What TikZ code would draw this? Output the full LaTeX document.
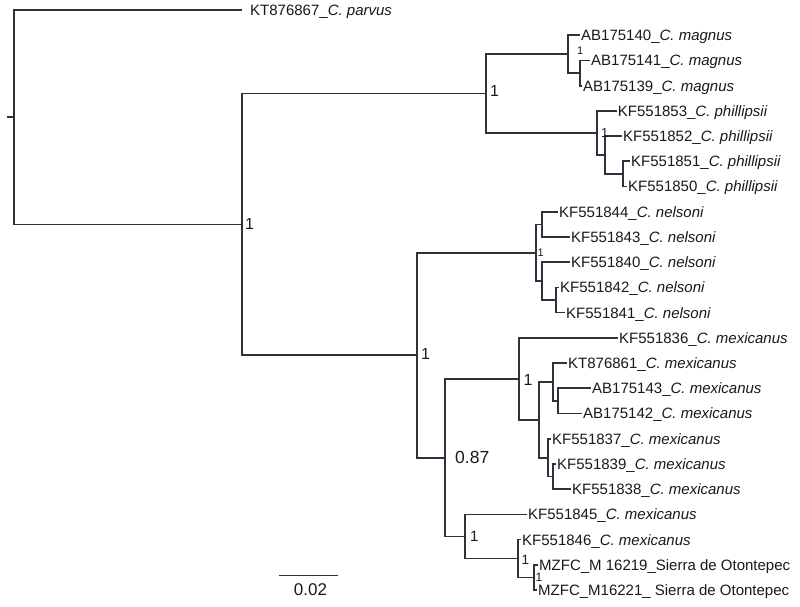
\documentclass[tikz,border=0pt]{standalone}
\usepackage{fontspec}
\setmainfont{Liberation Sans}
\newcommand\fsz[1]{\fontsize{#1}{#1}\selectfont}
\definecolor{lc}{RGB}{50,48,60}
\definecolor{tc}{RGB}{25,25,30}
\tikzset{
  br/.style={draw=lc, line width=1.7pt},
  leaf/.style={anchor=base west, inner xsep=1pt, inner ysep=0pt, yshift=-5.4pt, font=\fsz{15}, text=tc},
  boot/.style={anchor=base west, inner sep=0pt, text=tc},
}
\begin{document}
\begin{tikzpicture}[x=1pt,y=-1pt]
\fill[white] (0,0) rectangle (800,606);
\useasboundingbox (0,0) rectangle (800,606);
% internal nodes
\coordinate (R0) at (7,117.2);
\coordinate (R) at (14,117.2);
\coordinate (W) at (242,224.35);
\coordinate (X) at (485.7,93.5);
\coordinate (M1) at (568.3,54.1);
\coordinate (M2) at (580,73.05);
\coordinate (P1) at (596.7,132.95);
\coordinate (P2) at (605,155);
\coordinate (P3) at (623.3,173.9);
\coordinate (Y) at (417,355.2);
\coordinate (N1) at (535.7,252.75);
\coordinate (NA) at (541.7,224.4);
\coordinate (NB) at (541.7,281.1);
\coordinate (NC) at (556,300);
\coordinate (Z) at (445,457.65);
\coordinate (MA) at (519,378.85);
\coordinate (MA2) at (539,419.8);
\coordinate (Q1) at (553,382);
\coordinate (Q1b) at (558,400.9);
\coordinate (Q2) at (548,457.65);
\coordinate (Q2b) at (553,476.6);
\coordinate (MB) at (465,536.45);
\coordinate (MB2) at (518,558.5);
\coordinate (MB3) at (534,577.4);
% tips
\coordinate (t1) at (242,10);
\coordinate (t2) at (580,35.2);
\coordinate (t3) at (590,60.4);
\coordinate (t4) at (582,85.7);
\coordinate (t5) at (616.7,110.9);
\coordinate (t6) at (622,136.1);
\coordinate (t7) at (630,161.3);
\coordinate (t8) at (627,186.5);
\coordinate (t9) at (558,211.8);
\coordinate (t10) at (570,237);
\coordinate (t11) at (570,262.2);
\coordinate (t12) at (559,287.4);
\coordinate (t13) at (565,312.6);
\coordinate (t14) at (618,337.9);
\coordinate (t15) at (567,363.1);
\coordinate (t16) at (591,388.3);
\coordinate (t17) at (582,413.5);
\coordinate (t18) at (551,438.7);
\coordinate (t19) at (556,464);
\coordinate (t20) at (571,489.2);
\coordinate (t21) at (527,514.4);
\coordinate (t22) at (521,539.6);
\coordinate (t23) at (538,564.8);
\coordinate (t24) at (537,590);
% branches
\draw[br] (R0) -- (R);
\foreach \a/\b in {R/t1,R/W,W/X,W/Y,X/M1,X/P1,M1/t2,M1/M2,M2/t3,M2/t4,
  P1/t5,P1/P2,P2/t6,P2/P3,P3/t7,P3/t8,Y/N1,Y/Z,N1/NA,N1/NB,NA/t9,NA/t10,
  NB/t11,NB/NC,NC/t12,NC/t13,Z/MA,Z/MB,MA/t14,MA/MA2,MA2/Q1,MA2/Q2,
  Q1/t15,Q1/Q1b,Q1b/t16,Q1b/t17,Q2/t18,Q2/Q2b,Q2b/t19,Q2b/t20,
  MB/t21,MB/MB2,MB2/t22,MB2/MB3,MB3/t23,MB3/t24}
  \draw[br] (\a) |- (\b);
% leaf labels
\node[leaf, xshift=7pt] (l1) at (t1) {KT876867\_\textit{C. parvus}};
\node[leaf] (l2) at (t2) {AB175140\_\textit{C. magnus}};
\node[leaf] (l3) at (t3) {AB175141\_\textit{C. magnus}};
\node[leaf] (l4) at (t4) {AB175139\_\textit{C. magnus}};
\node[leaf] (l5) at (t5) {KF551853\_\textit{C. phillipsii}};
\node[leaf] (l6) at (t6) {KF551852\_\textit{C. phillipsii}};
\node[leaf] (l7) at (t7) {KF551851\_\textit{C. phillipsii}};
\node[leaf] (l8) at (t8) {KF551850\_\textit{C. phillipsii}};
\node[leaf] (l9) at (t9) {KF551844\_\textit{C. nelsoni}};
\node[leaf] (l10) at (t10) {KF551843\_\textit{C. nelsoni}};
\node[leaf] (l11) at (t11) {KF551840\_\textit{C. nelsoni}};
\node[leaf] (l12) at (t12) {KF551842\_\textit{C. nelsoni}};
\node[leaf] (l13) at (t13) {KF551841\_\textit{C. nelsoni}};
\node[leaf] (l14) at (t14) {KF551836\_\textit{C. mexicanus}};
\node[leaf] (l15) at (t15) {KT876861\_\textit{C. mexicanus}};
\node[leaf] (l16) at (t16) {AB175143\_\textit{C. mexicanus}};
\node[leaf] (l17) at (t17) {AB175142\_\textit{C. mexicanus}};
\node[leaf] (l18) at (t18) {KF551837\_\textit{C. mexicanus}};
\node[leaf] (l19) at (t19) {KF551839\_\textit{C. mexicanus}};
\node[leaf] (l20) at (t20) {KF551838\_\textit{C. mexicanus}};
\node[leaf] (l21) at (t21) {KF551845\_\textit{C. mexicanus}};
\node[leaf] (l22) at (t22) {KF551846\_\textit{C. mexicanus}};
\node[leaf] (l23) at (t23) {MZFC\_M 16219\_Sierra de Otontepec};
\node[leaf] (l24) at (t24) {MZFC\_M16221\_ Sierra de Otontepec};
% support values
\node[boot, font=\fsz{16}] (bW) at (245,229) {1};
\node[boot, font=\fsz{16}] (bX) at (490,96) {1};
\node[boot, font=\fsz{16}] (bY) at (421,359.3) {1};
\node[boot, font=\fsz{16}] (bMA) at (523.5,385) {1};
\node[boot, font=\fsz{17.5}] (bZ) at (455,463.3) {0.87};
\node[boot, font=\fsz{15}] (bMB) at (470,541) {1};
\node[boot, font=\fsz{11}] (bM) at (577,54) {1};
\node[boot, font=\fsz{13}] (bP) at (601,137) {1};
\node[boot, font=\fsz{11}] (bN) at (537.5,256.5) {1};
\node[boot, font=\fsz{13.5}] (bMB2) at (521.5,564.5) {1};
\node[boot, font=\fsz{12}] (bMB3) at (535.5,581.7) {1};
% scale bar
\coordinate (s1) at (279.3,575.7);
\coordinate (s2) at (337.7,575.7);
\draw[br, line width=1.4pt] (s1) -- (s2);
\node[anchor=base, inner sep=0pt, font=\fsz{17}, text=tc] (sl) at (310.5,595) {0.02};
\end{tikzpicture}
\end{document}
